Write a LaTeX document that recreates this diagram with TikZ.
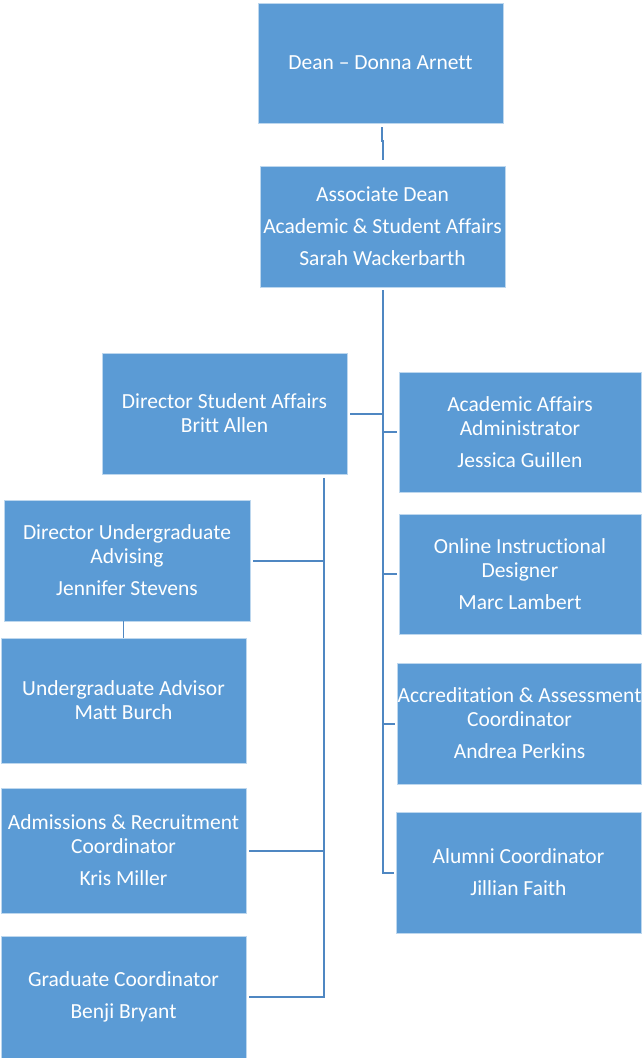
\documentclass[tikz,border=0pt]{standalone}
\usepackage{fontspec}
\setmainfont{Carlito}[Ligatures={NoCommon}]
\definecolor{boxblue}{HTML}{5B9BD5}
\definecolor{lineblue}{HTML}{4F87C2}
\begin{document}
\begin{tikzpicture}[x=1pt,y=-1pt,
  box/.style={fill=boxblue,draw=boxblue!40!white,line width=0.8pt,text=white,inner sep=0pt,
    align=center,font=\fontsize{21.5}{24}\selectfont},
  conn/.style={draw=lineblue,line width=2pt},
  thin/.style={draw=lineblue,line width=1pt}]
\useasboundingbox (0,0) rectangle (641,1058);
\fill[white] (0,0) rectangle (641,1058);
\node[box,minimum width=245,minimum height=120] (dean) at (380.5,63) {Dean – Donna Arnett};
\node[box,minimum width=245,minimum height=121] (assoc) at (382.5,226.5) {Associate Dean\\[8pt]Academic \& Student Affairs\\[8pt]Sarah Wackerbarth};
\node[box,minimum width=245,minimum height=121] (dsa) at (224.5,413.5) {Director Student Affairs\\Britt Allen};
\node[box,minimum width=242,minimum height=120] (aaa) at (520,432) {Academic Affairs\\Administrator\\[8pt]Jessica Guillen};
\node[box,minimum width=242,minimum height=120] (oid) at (520,574) {Online Instructional\\Designer\\[8pt]Marc Lambert};
\node[box,minimum width=243,minimum height=121] (acc) at (519.5,723.5) {Accreditation \& Assessment\\Coordinator\\[8pt]Andrea Perkins};
\node[box,minimum width=245,minimum height=121] (alu) at (518.5,872.5) {Alumni Coordinator\\[8pt]Jillian Faith};
\node[box,minimum width=246,minimum height=121] (dua) at (127,560.5) {Director Undergraduate\\Advising\\[8pt]Jennifer Stevens};
\node[box,minimum width=245,minimum height=125] (uga) at (123.5,700.5) {Undergraduate Advisor\\Matt Burch};
\node[box,minimum width=245,minimum height=125] (arc) at (123.5,850.5) {Admissions \& Recruitment\\Coordinator\\[8pt]Kris Miller};
\node[box,minimum width=245,minimum height=122] (grc) at (123.5,997) {Graduate Coordinator\\[8pt]Benji Bryant};
% dean to associate dean
\coordinate (j1) at ([xshift=1pt,yshift=-4pt]dean.south);
\coordinate (j2) at ([xshift=0.5pt,yshift=6pt]assoc.north);
\draw[conn] (j1) -- ++(0,14) -| (j2);
% main trunk
\coordinate (t1) at (383,290);
\draw[conn] (t1) |- ([xshift=-2pt]alu.west);
\draw[conn] ([xshift=3pt]dsa.east) -- (t1 |- dsa.east);
\foreach \n in {aaa,oid,acc}{\draw[conn] (t1 |- \n.west) -- ([xshift=-2pt]\n.west);}
% second trunk
\coordinate (t2) at (324,478);
\draw[conn] (t2) |- ([xshift=3pt]grc.east);
\draw[conn] ([xshift=3pt]dua.east) -- (t2 |- dua.east);
\draw[conn] ([xshift=3pt]arc.east) -- (t2 |- arc.east);
\draw[thin] (uga.north |- dua.south) -- (uga.north);
\end{tikzpicture}
\end{document}
